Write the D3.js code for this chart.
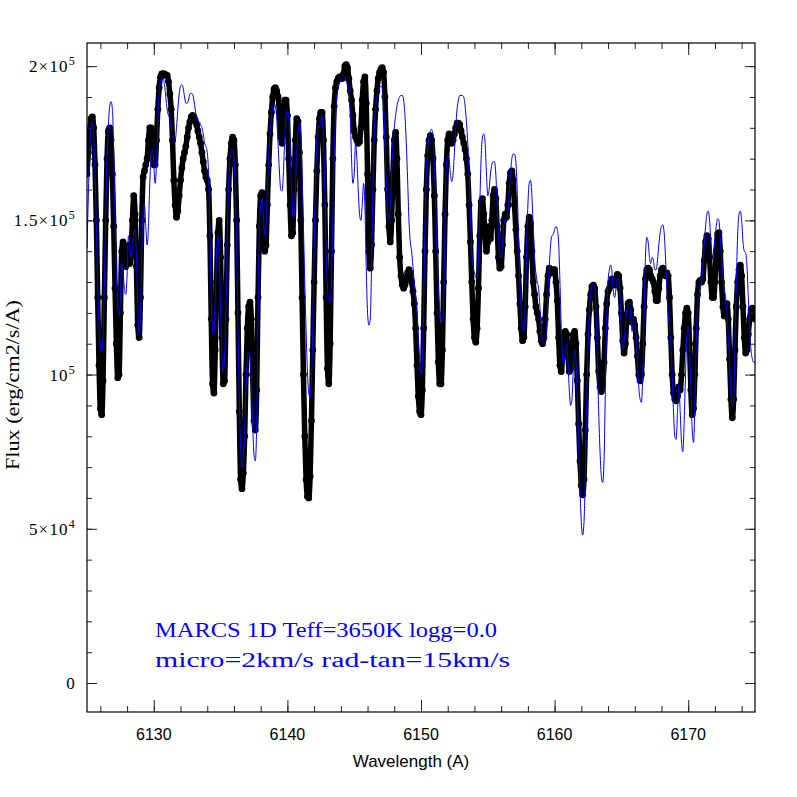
<!DOCTYPE html>
<html>
<head>
<meta charset="utf-8">
<script src="https://cdn.jsdelivr.net/npm/d3@7"></script>
<style>
  body { margin: 0; background: #fff; }
  svg { display: block; }
</style>
</head>
<body>
<div id="chart"></div>
<script>
// wavelength grid (A), 0.1 A step from 6125.0 to 6175.0
var wavelength = d3.range(501).map(function(i){ return +(6125 + i * 0.1).toFixed(1); });

// observed spectrum (black dots), flux in units of 1e3 erg/cm2/s/A, one row per Angstrom
var observedFlux = [
  165,172,179,183,183.5,180,168,150,125,103,
  89,87,98,125,150,170,179,180,176,165,
  148,128,110,99,100,120,140,143,138,135,
  140,142,136,140,150,158,152,135,116,112,
  125,150,164,166,168,170,176,180,180,175,
  168,168,176,186,193,196.5,197.5,197.5,197.5,197,
  197,195,191,186,176,163,155,151,153,158,
  163,167,170,172,174,177,180,182,183.5,184,
  183.5,182.5,181,179,177,175,172,169,166,164,
  163,160,145,118,97,94,108,130,146,150,
  138,112,97,98,118,142,160,170,175,177,
  176,168,150,120,88,66,63,68,80,100,
  115,122,123.5,118,100,85,82,95,125,148,
  158,159,150,140,142,155,168,178,185,190,
  192.5,193,192,190,185,177,175,183,189,189,
  184,170,155,145,146,160,176,183,182,172,
  150,125,100,80,66,60.5,60,67,85,108,
  130,150,166,177,183,185,185,176,155,125,
  102,97,110,140,170,187,193,195,196,196.5,
  196,196,197.5,200,200.5,199.5,196,192,189,184,
  179,177,176,175,175.5,180,189,195,196.5,188,
  165,140,134.5,142,160,176,186,192,196,198,
  199,199.5,198,190,177,160,148,143,150,165,
  176,178.5,170,152,138,132,129,128,129,131,
  133,134,133,130,127,123,115,103,93,88,
  87,95,115,140,160,171,176,177.5,176,170,
  158,140,120,104,97,97,108,130,152,168,
  176,178,177,175,176,178,180,181.5,181.5,181,
  179,177,175,173,170,165,155,143,130,118,
  112,110.5,115,128,145,156,157,152,145,140,
  143,148,144,150,158,160,157,148,138,134.5,
  135,142,150,152,151,155,162,165.5,166,163,
  155,147,140,132,123,115,111,112,122,138,
  148,151,149,140,130,126,122,120,118,114,
  111,110,112,118,126,132,134.5,134,133,134,
  134,130,124,112,103,101,106,112,114,113,
  106,101,102,108,113,114,110,98,84,72,
  64,61,66,82,100,113,121,126,128.5,129,
  128,122,112,101,96,94.5,97,104,115,123,
  127,128,130,131,130,129,131,132.5,132,128,
  120,111,107,110,118,123,123.5,121,117,118,
  116,112,106,100,98,100,110,122,131,134,
  134.5,134,132,131,130,127,124,124,128,132,
  134,134.5,133,132,133,132,125,112,100,94,
  92,91.5,93,96,95,100,108,115,120,121.5,
  120,110,95,87,89,100,115,126,130,130.5,
  130,131,137,143,145,144,138,130,125,125,
  130,140,145.5,146,140,130,122,119,120,123,
  118,105,92,86,92,108,122,130,134,135.5,
  132,122,112,107,108,113,118,121,121.5,120,
  118
];

// MARCS model spectrum (blue line), same grid and units
var modelFlux = [
  141,158,172,180,182,178,165,148,130,116,
  109,107.5,112,130,152,170,181,187,188.5,186,
  172,150,132,122,119,124,136,133,128,126,
  132,145,142,138,141,146,147,138,122,113,
  120,140,153,155,148,142,148,162,171,173,
  168,162,168,182,191,195,196,196,194,190,
  186,184,183,180,177,175.5,176,180,186,191,
  193.5,194,193,190,188,188,189,191,191.2,191,
  189,186,183,182,182,181,180,178,175,174,
  172,165,145,125,114,113,125,140,145,138,
  120,106,101,106,122,145,162,170,173,173,
  170,160,140,115,92,76,70,72,82,95,
  104,107.5,106,98,84,74,72,84,118,145,
  155,157,152,145,148,160,171,178,183,186.5,
  188,187,183,175,166,160,159.5,165,177,184,
  185.5,183,175,162,152,151,160,172,179,181.5,
  178,165,148,130,114,101,94,92.5,98,115,
  140,162,176,181,180,182,184,176,160,140,
  128,124,123.5,130,150,170,183,190,193,194.5,
  195.5,196,196.5,196,195,194,192,185,170,162,
  165,175,170,160,152,150,155,162,155,135,
  120,116,118,135,160,178,186,190,192,193,
  193.5,193,188,175,162,152,150,155,165,175,
  180,184,187,189,190,190.5,190.5,189,184,175,
  163,150,143,140,135,130,125,120,112,105,
  100,105,125,148,165,173,177,179,179.5,177,
  168,155,140,128,121,118,117,125,150,168,
  171,170,165,162.5,165,172,180,186,189,190.5,
  190.5,190.5,190,187,182,175,165,152,140,135,
  133,131.5,131,138,155,170,177,178,175,165,
  158,160,165,168,169,169,165,155,145,139,
  138,142,148,150,150,152,158,165,170,171.5,
  171.5,169,160,145,130,120,115,114,122,140,
  155,162,163,158,148,138,133,130,128,122,
  115,111,110,110,115,125,135,142,145,145.5,
  147,148,147,143,130,115,105,103,108,110,
  104,95,90,92,102,108,104,92,78,63,
  52,48,52,68,90,108,120,126,129,129.5,
  128,120,105,88,75,67,65,72,95,118,
  130,134,135.5,133,127,125,128,131,131,125,
  115,108,110,116,121,123,123,119,114,118,
  118,112,104,96,92,91,100,120,138,144.5,
  143,138,136,138,137,134,134,137,142,146,
  148,148.5,146,138,128,120,115,110,100,88,
  80,79,88,97,88,78,75,85,100,112,
  115.5,110,95,82,78,90,110,122,125,128,
  130,135,142,148,152,153,150,143,138,140,
  144,148,150.5,150,144,138,132,128,125,120,
  112,103,94,90,92,110,130,145,152,153,
  150,143,140,139.5,135,125,115,108,105,104,
  104
];

var xDomain = [6125, 6175];
var yDomain = [-9400, 207500];
var xMajorTicks = [6130, 6140, 6150, 6160, 6170];
var xMinorTicks = d3.range(6126, 6175, 2);
var yMajorTicks = [0, 50000, 100000, 150000, 200000];
var yTickLabels = [["0", ""], ["5\u00d710", "4"], ["10", "5"], ["1.5\u00d710", "5"], ["2\u00d710", "5"]];
var yMinorTicks = d3.range(0, 210000, 10000);
var noteLines = ["MARCS 1D Teff=3650K logg=0.0", "micro=2km/s rad-tan=15km/s"];

var margin = {left: 87, right: 42, top: 43, bottom: 85};
var width = 797 - margin.left - margin.right,
    height = 797 - margin.top - margin.bottom;

var x = d3.scaleLinear().domain(xDomain).range([0, width]);
var y = d3.scaleLinear().domain(yDomain).range([height, 0]);

var svgRoot = d3.select("#chart").append("svg")
  .attr("width", 797)
  .attr("height", 797);

var svg = svgRoot.append("g")
  .attr("transform", "translate(" + margin.left + "," + margin.top + ")");

svg.append("clipPath").attr("id", "clip")
  .append("rect").attr("width", width).attr("height", height);

var observed = wavelength.map(function(w, i){ return {w: w, f: observedFlux[i] * 1000}; });
var model = wavelength.map(function(w, i){ return {w: w, f: modelFlux[i] * 1000}; });

var line = d3.line()
  .x(function(d){ return x(d.w); })
  .y(function(d){ return y(d.f); })
  .curve(d3.curveMonotoneX);

var plot = svg.append("g").attr("clip-path", "url(#clip)");

// black: heavy connecting line + dots
plot.append("path")
  .datum(observed)
  .attr("fill", "none")
  .attr("stroke", "#000")
  .attr("stroke-width", 5.5)
  .attr("stroke-linejoin", "round")
  .attr("d", line);

plot.selectAll(".dot")
  .data(observed)
  .enter().append("circle")
  .attr("class", "dot")
  .attr("cx", function(d){ return x(d.w); })
  .attr("cy", function(d){ return y(d.f); })
  .attr("r", 3.4)
  .attr("fill", "#000");

//model line
plot.append("path")
  .datum(model)
  .attr("fill", "none")
  .attr("stroke", "#0000ff")
  .attr("stroke-width", 1)
  .attr("d", line);

// ticks, inward on all four sides
function tickAxis(axis, values, size, transform) {
  var g = svg.append("g")
    .attr("transform", transform)
    .call(axis.tickValues(values).tickSize(size).tickFormat(""));
  g.select(".domain").remove();
  g.selectAll("line").attr("stroke", "#222");
}
tickAxis(d3.axisBottom(x), xMajorTicks, -12, "translate(0," + height + ")");
tickAxis(d3.axisBottom(x), xMinorTicks, -6, "translate(0," + height + ")");
tickAxis(d3.axisTop(x), xMajorTicks, -12, "translate(0,0)");
tickAxis(d3.axisTop(x), xMinorTicks, -6, "translate(0,0)");
tickAxis(d3.axisLeft(y), yMajorTicks, -10, "translate(0,0)");
tickAxis(d3.axisLeft(y), yMinorTicks, -5, "translate(0,0)");
tickAxis(d3.axisRight(y), yMajorTicks, -10, "translate(" + width + ",0)");
tickAxis(d3.axisRight(y), yMinorTicks, -5, "translate(" + width + ",0)");

svg.append("rect")
  .attr("width", width)
  .attr("height", height)
  .attr("fill", "none")
  .attr("stroke", "#000")
  .attr("stroke-width", 1.2);

// x tick labels
svg.selectAll(".xlab")
  .data(xMajorTicks)
  .enter().append("text")
  .attr("x", function(d){ return x(d); })
  .attr("y", height + 28)
  .attr("text-anchor", "middle")
  .style("font-family", "Liberation Sans, Arial, sans-serif")
  .style("font-size", "16px")
  .text(function(d){ return d; });

// y tick labels with superscript exponents
var ylab = svg.selectAll(".ylab")
  .data(yMajorTicks)
  .enter().append("text")
  .attr("x", -11)
  .attr("y", function(d){ return y(d) + 6; })
  .attr("text-anchor", "end")
  .style("font-family", "Liberation Serif, DejaVu Serif, serif")
  .style("font-size", "17px")
  .style("letter-spacing", "1.2px");
ylab.append("tspan").text(function(d, i){ return yTickLabels[i][0]; });
ylab.append("tspan")
  .attr("dy", -7)
  .style("font-size", "12px")
  .text(function(d, i){ return yTickLabels[i][1]; });

//Label for Y axis
svg.append("text")
  .attr("transform", "translate(" + (19 - margin.left) + "," + (385 - margin.top) + ") rotate(-90)")
  .attr("text-anchor", "middle")
  .attr("textLength", 170)
  .attr("lengthAdjust", "spacingAndGlyphs")
  .style("font-family", "Liberation Serif, DejaVu Serif, serif")
  .style("font-size", "18px")
  .text("Flux (erg/cm2/s/A)");

//Label for X axis
svg.append("text")
  .attr("x", 411 - margin.left)
  .attr("y", 767 - margin.top)
  .attr("text-anchor", "middle")
  .style("font-family", "Liberation Sans, Arial, sans-serif")
  .style("font-size", "17px")
  .text("Wavelength (A)");

// model annotation
svg.selectAll(".note")
  .data(noteLines)
  .enter().append("text")
  .attr("x", 155 - margin.left)
  .attr("y", function(d, i){ return 637 - margin.top + i * 30; })
  .attr("fill", "#0000ff")
  .attr("textLength", function(d, i){ return i === 0 ? 342 : 355; })
  .attr("lengthAdjust", "spacingAndGlyphs")
  .style("font-family", "Liberation Serif, DejaVu Serif, serif")
  .style("font-size", "20px")
  .text(function(d){ return d; });
</script>
</body>
</html>
